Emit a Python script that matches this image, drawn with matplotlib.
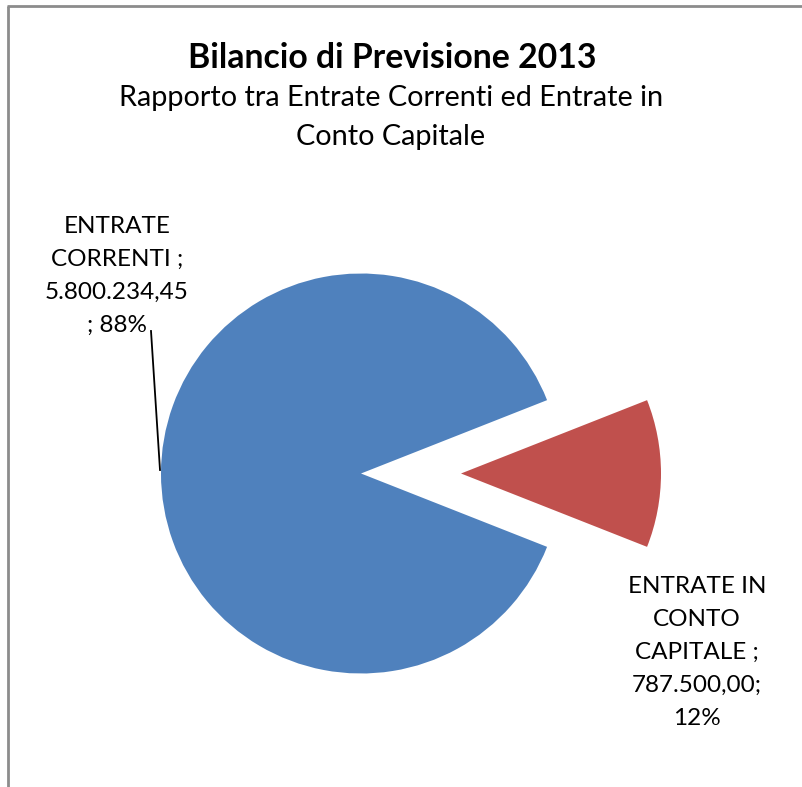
import matplotlib
matplotlib.use("Agg")
import matplotlib.pyplot as plt

plt.rcParams['font.family'] = ['Lato', 'DejaVu Sans']

# dati
voci = ['ENTRATE CORRENTI', 'ENTRATE IN CONTO CAPITALE']
importi = [5800234.45, 787500.00]
etichette = [['ENTRATE', 'CORRENTI ;', '5.800.234,45', '; 88%'],
             ['ENTRATE IN', 'CONTO', 'CAPITALE ;', '787.500,00;', '12%']]
colori = ['#4F81BD', '#C0504D']

W, H = 802, 787
fig = plt.figure(figsize=(W / 100, H / 100), dpi=100)
ax = fig.add_axes([0, 0, 1, 1])

# fetta rossa centrata a 0 gradi, staccata di 100 px
quota_rossa = importi[1] / sum(importi)
ax.pie(importi, colors=colori, explode=[0, 100], radius=200,
       center=(361, H - 473.5), startangle=360 * quota_rossa / 2,
       counterclock=True, frame=True,
       wedgeprops=dict(linewidth=0))

ax.set_xlim(0, W)
ax.set_ylim(0, H)
ax.set_aspect('auto')
ax.axis('off')


def righe(x, y0, passo, testi, **kw):
    # una riga per volta, allineate sulla linea di base
    for i, t in enumerate(testi):
        ax.text(x, H - (y0 + i * passo), t, ha='center', va='baseline', **kw)


# titolo
righe(392, 68, 0, ['Bilancio di Previsione 2013'], fontsize=24.3, fontweight='bold')
righe(391, 106, 39, ['Rapporto tra Entrate Correnti ed Entrate in', 'Conto Capitale'],
      fontsize=20.8)

# etichette
righe(117, 233, 33, etichette[0], fontsize=17.5)
righe(697, 593, 33, etichette[1], fontsize=17.5)
ax.plot([151, 160], [H - 331, H - 470], color='black', linewidth=1.3)

# bordo
ax.plot([8, 8], [0, H - 6], color='#8c8c8c', linewidth=2, solid_capstyle='butt')
ax.plot([7, W], [H - 6, H - 6], color='#8c8c8c', linewidth=2, solid_capstyle='butt')

fig.savefig('out.png', dpi=100)
